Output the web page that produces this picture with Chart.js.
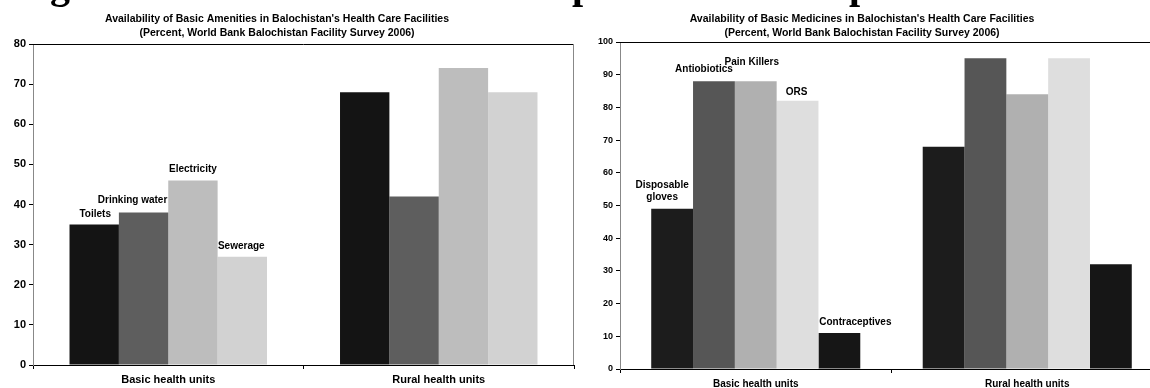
<!DOCTYPE html>
<html>
<head>
<meta charset="utf-8">
<script src="https://cdn.jsdelivr.net/npm/chart.js@4/dist/chart.umd.min.js"></script>
<style>
    html, body { margin: 0; padding: 0; background: #fff; }
    body { width: 1150px; height: 388px; overflow: hidden; position: relative; }
    .box { position: absolute; top: 0; height: 388px; }
    #left { left: 0; width: 578px; }
    #right { left: 578px; width: 600px; }
    /* descenders of the page caption that is cut off above the charts */
    .cut { position: absolute; top: -35px; font: bold 40px/40px "Liberation Serif", "Times New Roman", serif; color: #000; }
</style>
</head>
<body>
<div class="box" id="left"><canvas id="amenities"></canvas></div>
<div class="box" id="right"><canvas id="medicines"></canvas></div>
<span class="cut" style="left:50px">g</span>
<span class="cut" style="left:572px">p</span>
<span class="cut" style="left:849px">p</span>
<script>

// categories
var facilityTypes = ['Basic health units', 'Rural health units'];

// left panel: basic amenities (percent)
var amenityTitle = ["Availability of Basic Amenities in Balochistan's Health Care Facilities",
                    "(Percent, World Bank Balochistan Facility Survey 2006)"];
var amenityNames = ['Toilets', 'Drinking water', 'Electricity', 'Sewerage'];
var toilets       = [35, 68];
var drinkingWater = [38, 42];
var electricity   = [46, 74];
var sewerage      = [27, 68];

// right panel: basic medicines (percent)
var medicineTitle = ["Availability of Basic Medicines in Balochistan's Health Care Facilities",
                     "(Percent, World Bank Balochistan Facility Survey 2006)"];
var medicineNames  = ['Disposable gloves', 'Antiobiotics', 'Pain Killers', 'ORS', 'Contraceptives'];
var gloves         = [49, 68];
var antibiotics    = [88, 95];
var painKillers    = [88, 84];
var ors            = [82, 95];
var contraceptives = [11, 32];

var amenityMax = 80;
var medicineMax = 100;
var tickStep = 10;

Chart.defaults.font.family = '"Liberation Sans", Arial, sans-serif';
Chart.defaults.color = '#000';

// series names written above the "Basic health units" bars
var barLabels = {
    id: 'barLabels',
    afterDatasetsDraw: function(chart, args, opts) {
        var ctx = chart.ctx;
        ctx.save();
        ctx.font = opts.font;
        ctx.fillStyle = '#000';
        ctx.textAlign = 'center';
        ctx.textBaseline = 'middle';
        opts.items.forEach(function(item, i) {
            var bar = chart.getDatasetMeta(i).data[0];
            var lines = item.lines || [chart.data.datasets[i].label];
            lines.forEach(function(line, k) {
                ctx.fillText(line, bar.x + item.dx, bar.y + item.dy + k * opts.lineHeight);
            });
        });
        ctx.restore();
    }
};

// top rule, right border and the two title lines
var frame = {
    id: 'frame',
    afterDraw: function(chart, args, opts) {
        var a = chart.chartArea, ctx = chart.ctx;
        ctx.save();
        ctx.lineWidth = 1;
        ctx.strokeStyle = '#000';
        ctx.beginPath();
        ctx.moveTo(a.left, Math.round(a.top) + 0.5);
        ctx.lineTo(opts.toEdge ? chart.width : a.right, Math.round(a.top) + 0.5);
        ctx.stroke();
        if (opts.rightBorder) {
            ctx.strokeStyle = '#888';
            ctx.beginPath();
            ctx.moveTo(Math.round(a.right) - 0.5, a.top);
            ctx.lineTo(Math.round(a.right) - 0.5, a.bottom);
            ctx.stroke();
        }
        ctx.font = 'bold 10.5px "Liberation Sans", Arial, sans-serif';
        ctx.fillStyle = '#000';
        ctx.textAlign = 'center';
        ctx.textBaseline = 'middle';
        opts.title.forEach(function(t, k) {
            ctx.fillText(t, opts.titleX, 19 + k * 14);
        });
        ctx.restore();
    }
};

function makeChart(el, cfg) {
    return new Chart(document.getElementById(el), {
        type: 'bar',
        data: {
            labels: facilityTypes,
            datasets: cfg.names.map(function(name, i) {
                return {
                    label: name,
                    data: cfg.series[i],
                    backgroundColor: cfg.colors[i],
                    borderWidth: 0,
                    categoryPercentage: cfg.catPct,
                    barPercentage: 1
                };
            })
        },
        plugins: [barLabels, frame],
        options: {
            animation: false,
            responsive: true,
            maintainAspectRatio: false,
            events: [],
            layout: { padding: cfg.padding },
            plugins: {
                legend: { display: false },
                title: { display: false },
                tooltip: { enabled: false },
                barLabels: cfg.labels,
                frame: cfg.frame
            },
            scales: {
                x: {
                    ticks: { color: '#000', font: { size: cfg.xFont, weight: 'bold' }, padding: cfg.xPad },
                    grid: { drawOnChartArea: false, tickLength: 4, color: '#000', offset: true },
                    border: { color: '#000' },
                    afterFit: function(s) { s.height = cfg.xHeight; }
                },
                y: {
                    min: 0,
                    max: cfg.max,
                    ticks: { stepSize: tickStep, color: '#000', font: { size: cfg.yFont, weight: 'bold' }, padding: 3 },
                    grid: { drawOnChartArea: false, tickLength: 4, color: '#000' },
                    border: { color: '#888' },
                    afterFit: function(s) { s.width = cfg.yWidth; }
                }
            }
        }
    });
}

makeChart('amenities', {
    names: amenityNames,
    series: [toilets, drinkingWater, electricity, sewerage],
    colors: ['#141414', '#5e5e5e', '#bdbdbd', '#d2d2d2'],
    catPct: 0.73,
    max: amenityMax,
    padding: { top: 44, right: 4, left: 0, bottom: 0 },
    xFont: 11, xPad: 4, xHeight: 23,
    yFont: 11, yWidth: 33,
    labels: {
        font: 'bold 10px "Liberation Sans", Arial, sans-serif',
        lineHeight: 12,
        items: [
            { dx: 1, dy: -10 },
            { dx: -11, dy: -12 },
            { dx: 0, dy: -11 },
            { dx: -1, dy: -10 }
        ]
    },
    frame: { title: amenityTitle, titleX: 277, rightBorder: true, toEdge: false }
});

makeChart('medicines', {
    names: medicineNames,
    series: [gloves, antibiotics, painKillers, ors, contraceptives],
    colors: ['#1c1c1c', '#565656', '#b0b0b0', '#dedede', '#161616'],
    catPct: 0.77,
    max: medicineMax,
    padding: { top: 42, right: 15, left: 0, bottom: 0 },
    xFont: 10, xPad: 5, xHeight: 19,
    yFont: 9, yWidth: 42,
    labels: {
        font: 'bold 10px "Liberation Sans", Arial, sans-serif',
        lineHeight: 12,
        items: [
            { dx: -10, dy: -24, lines: ['Disposable', 'gloves'] },
            { dx: -10, dy: -12 },
            { dx: -4, dy: -19 },
            { dx: -1, dy: -9 },
            { dx: 16, dy: -11 }
        ]
    },
    frame: { title: medicineTitle, titleX: 284, rightBorder: false, toEdge: true }
});
</script>
</body>
</html>
